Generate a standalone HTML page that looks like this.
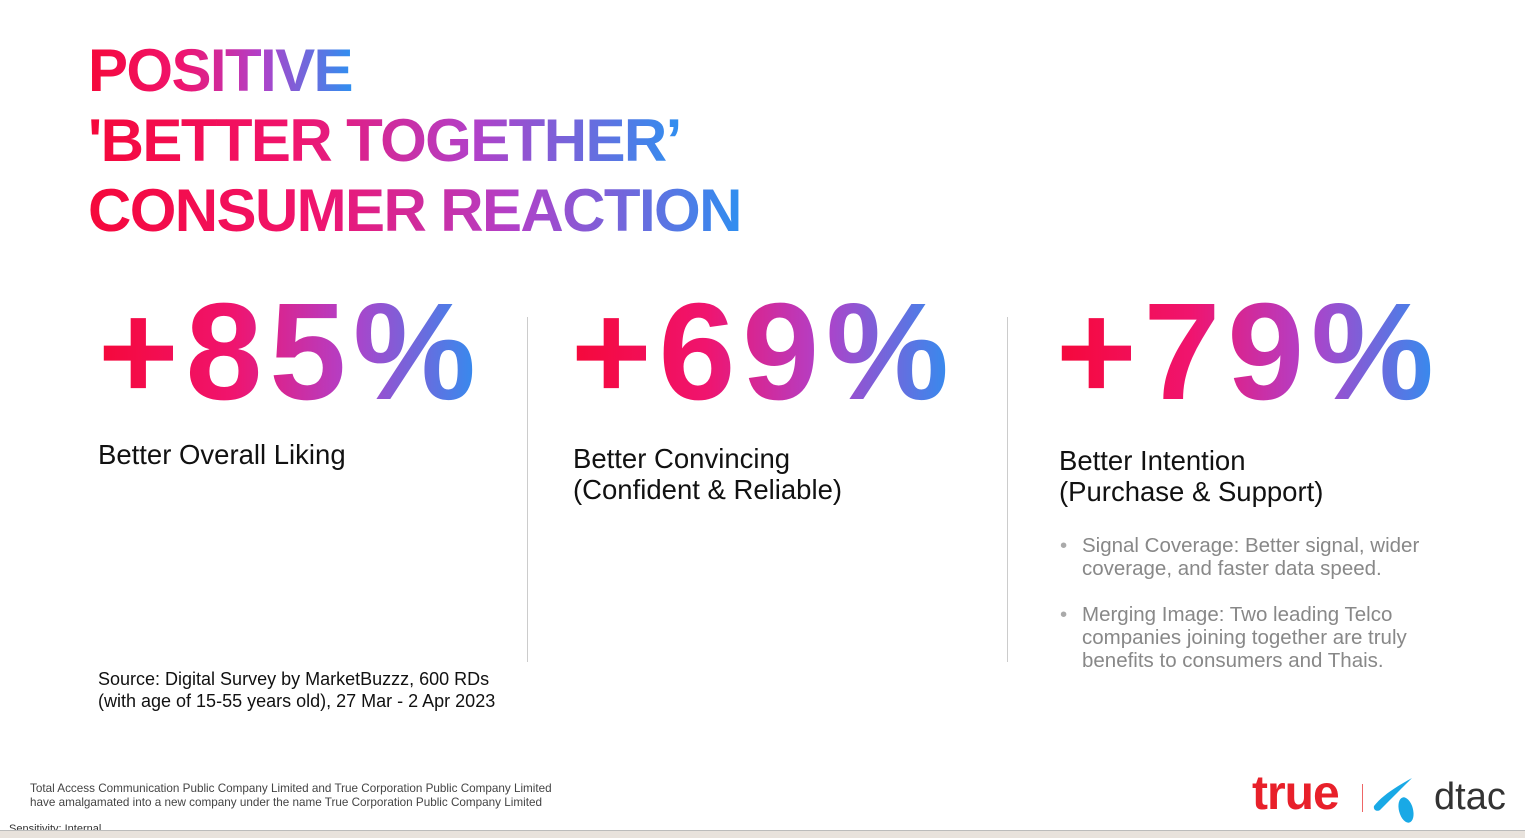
<!DOCTYPE html>
<html><head><meta charset="utf-8"><style>
body{margin:0;width:1525px;height:837px;background:#fff;position:relative;overflow:hidden;font-family:"Liberation Sans",sans-serif}
.g{background-image:linear-gradient(90deg,#f5083a 0%,#f0146e 35%,#b240c8 65%,#2f8ff0 100%);-webkit-background-clip:text;background-clip:text;color:transparent;display:inline-block}
.t{position:absolute;left:88px;font-weight:bold;font-size:60px;line-height:70px;letter-spacing:-1.6px}
.n{position:absolute;top:272px;font-weight:bold;font-size:138px;line-height:160px;letter-spacing:7px}
.l{position:absolute;font-size:27.5px;line-height:31px;color:#111}
.div{position:absolute;top:317px;width:1px;height:345px;background:#ccc}
.b{position:absolute;left:1082px;font-size:20.5px;line-height:23px;color:#888;width:380px}
.b:before{content:"•";position:absolute;left:-22px;color:#aaa}
</style></head><body>
<div class="t" style="top:36px"><span class="g">POSITIVE</span><br><span class="g">'BETTER TOGETHER’</span><br><span class="g">CONSUMER REACTION</span></div>
<div class="n g" style="left:98px">+85%</div>
<div class="n g" style="left:571px">+69%</div>
<div class="n g" style="left:1056px">+79%</div>
<div class="div" style="left:527px"></div>
<div class="div" style="left:1007px"></div>
<div class="l" style="left:98px;top:439px">Better Overall Liking</div>
<div class="l" style="left:573px;top:443px">Better Convincing<br>(Confident &amp; Reliable)</div>
<div class="l" style="left:1059px;top:445px">Better Intention<br>(Purchase &amp; Support)</div>
<div class="b" style="top:534px">Signal Coverage: Better signal, wider coverage, and faster data speed.</div>
<div class="b" style="top:603px">Merging Image: Two leading Telco companies joining together are truly benefits to consumers and Thais.</div>
<div style="position:absolute;left:98px;top:668px;font-size:18px;line-height:22px;color:#111">Source: Digital Survey by MarketBuzzz, 600 RDs<br>(with age of 15-55 years old), 27 Mar - 2 Apr 2023</div>
<div style="position:absolute;left:30px;top:782px;font-size:11.7px;line-height:14px;color:#444">Total Access Communication Public Company Limited and True Corporation Public Company Limited<br>have amalgamated into a new company under the name True Corporation Public Company Limited</div>
<div style="position:absolute;left:9px;top:823px;font-size:11px;color:#333">Sensitivity: Internal</div>
<div style="position:absolute;left:0;top:830px;width:1525px;height:7px;background:#e8e2dc;border-top:1px solid #bbb"></div>
<div style="position:absolute;left:1250px;top:772px;height:50px;width:270px">
<span style="position:absolute;left:2px;top:-6px;font-size:48px;font-weight:bold;color:#e8202a;letter-spacing:-1px">true</span>
<div style="position:absolute;left:112px;top:12px;width:1px;height:28px;background:#e66"></div>
<svg style="position:absolute;left:122px;top:2px" width="50" height="50" viewBox="0 0 50 50"><path d="M2 32 C10 22 22 14 40 4 C30 14 20 24 8 36 C5 38 1 36 2 32Z" fill="#19a9e6"/><ellipse cx="34" cy="36" rx="7" ry="13" transform="rotate(-15 34 36)" fill="#19a9e6"/></svg>
<span style="position:absolute;left:184px;top:4px;font-size:38px;color:#333">dtac</span>
</div>
</body></html>
